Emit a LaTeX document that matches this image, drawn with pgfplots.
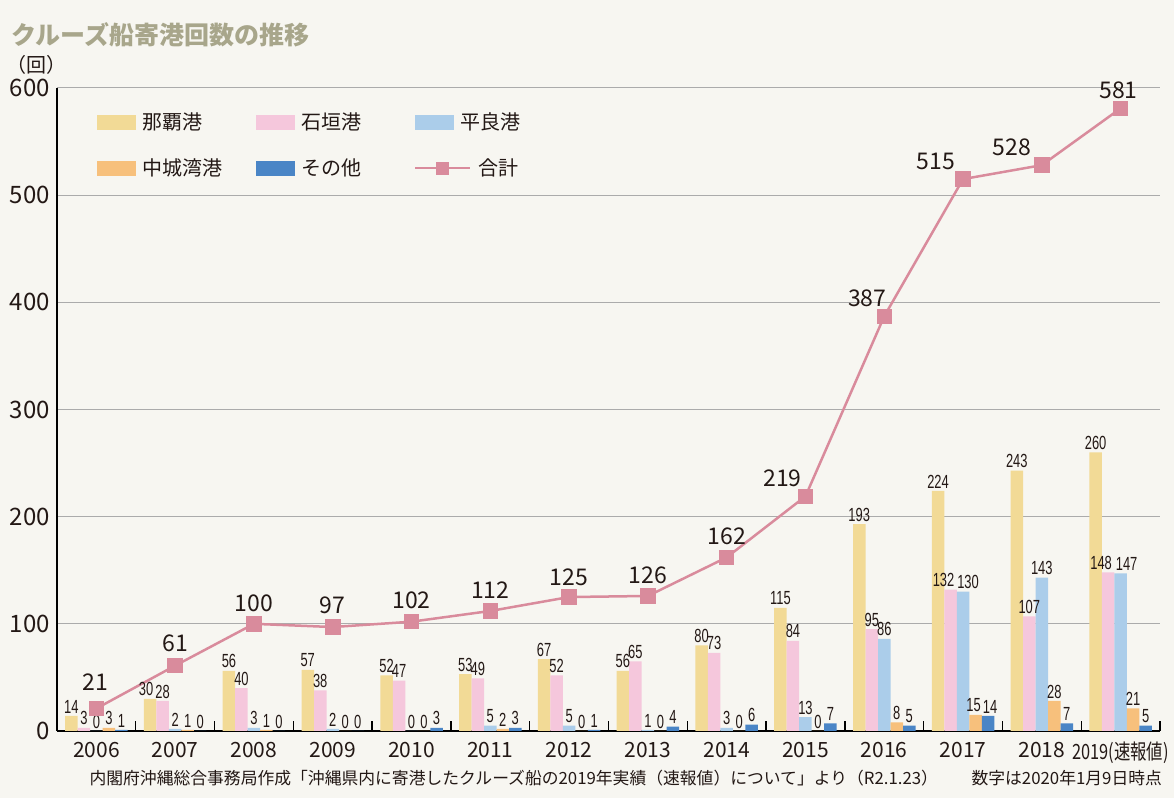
\documentclass[border=0pt]{standalone}
\usepackage{pgfplots}
\pgfplotsset{compat=1.18}
\usepackage{pgfplotstable}
\usepackage{graphicx}
\usepackage{fontspec}
\setmainfont{Noto Sans CJK JP}
\newfontfamily\numfont[FakeStretch=0.68]{Liberation Sans}
\definecolor{bg}{HTML}{F7F6F1}
\definecolor{naha}{HTML}{F2DA96}
\definecolor{ishi}{HTML}{F5C7DC}
\definecolor{hira}{HTML}{ABCDEA}
\definecolor{naka}{HTML}{F7C07C}
\definecolor{other}{HTML}{4A85C6}
\definecolor{total}{HTML}{D98B9C}
\definecolor{titlec}{HTML}{A8A68B}
\definecolor{gridc}{HTML}{ABABAB}
\definecolor{txt}{HTML}{231815}

\pgfplotstableread{
x naha ishi hira naka other total lx ly sy sp sh sn so
0 14 3 0 3 1 21 -0.5 13 0 0 0 0 0
1 30 28 2 1 0 61 0 11 -2 0 0 0 0
2 56 40 3 1 0 100 0 10.5 0 0 0 0 0
3 57 38 2 0 0 97 0 11 0 0 0 0 0
4 52 47 0 0 3 102 0 10.5 0 0 0 0 0
5 53 49 5 2 3 112 0 10.5 0 0 0 0 0
6 67 52 5 0 1 125 0 10 0 0 0 0 0
7 56 65 1 0 4 126 0 10.5 0 0 0 0 0
8 80 73 3 0 6 162 0 10.5 0 0 0 0 0
9 115 84 13 0 7 219 -11.5 9 0 0 0 0 0
10 193 95 86 8 5 387 -8.5 9 0 0 0 0 0
11 224 132 130 15 14 515 -13.5 9 0 -3.5 2.5 -1 1
12 243 107 143 28 7 528 -15 9 0 0 0 0 0
13 260 148 147 21 5 581 -1 9 0 -3.5 3 0 0
}\data

\pgfplotsset{
  barleg/.style={legend image code/.code={%
    \fill[##1,draw=none] (0pt,-3.75pt) rectangle (19.5pt,3.75pt);
    \path[draw=none,fill=none] (22.5pt,0pt);}},
  barlab/.style 2 args={ybar, bar width=6.25pt, bar shift=#1, draw=none,
    nodes near coords,
    visualization depends on={\thisrow{#2} \as \sx},
    nodes near coords style={font=\numfont\fontsize{9.5}{9.5}\selectfont, text=txt, inner sep=1.2pt, xshift={#1+\sx pt}}},
}

\begin{document}
\begin{tikzpicture}
\fill[bg] (-28.5pt,-33.5pt) rectangle (558.5pt,365.5pt);
\begin{axis}[
  at={(0,0)}, anchor=south west,
  scale only axis, width=551.5pt, height=321.5pt,
  xmin=-0.5, xmax=13.5, ymin=0, ymax=600,
  clip=false,
  axis x line*=bottom, axis y line*=left,
  x axis line style={black, line width=1pt},
  y axis line style={black, line width=0.75pt},
  ytick={0,100,...,600},
  ymajorgrids, grid style={gridc, line width=0.5pt},
  xtick={0,...,13},
  xticklabels={2006,2007,2008,2009,2010,2011,2012,2013,2014,2015,2016,2017,2018,{\scalebox{0.78}[1]{2019(速報値)}}},
  minor xtick={0.5,1.5,...,13.5},
  major tick length=0pt, minor tick length=5pt,
  minor tick style={black, line width=0.7pt},
  /pgf/number format/assume math mode=true,
  yticklabel style={font=\fontsize{12}{12}\selectfont, text=txt},
  xticklabel style={font=\fontsize{10.5}{10.5}\selectfont, text=txt, yshift=-2pt},
  legend columns=3,
  legend style={at={(0,1)}, anchor=north west, xshift=20pt, yshift=-10pt,
    draw=none, fill=none, inner sep=0pt,
    font=\fontsize{10}{10}\selectfont, text=txt,
    /tikz/column sep=0pt, /tikz/row sep=9pt,
    nodes={text width=57pt, inner xsep=0pt, align=left}},
  legend cell align=left,
]
\addplot[fill=naha, barlab={-12.5pt}{sy}, barleg] table[x=x,y=naha]{\data};
\addlegendentry{那覇港}
\addplot[fill=ishi, barlab={-6.25pt}{sp}, barleg] table[x=x,y=ishi]{\data};
\addlegendentry{石垣港}
\addplot[fill=hira, barlab={0pt}{sh}, barleg] table[x=x,y=hira]{\data};
\addlegendentry{平良港}
\addplot[fill=naka, barlab={6.25pt}{sn}, barleg] table[x=x,y=naka]{\data};
\addlegendentry{中城湾港}
\addplot[fill=other, barlab={12.5pt}{so}, barleg] table[x=x,y=other]{\data};
\addlegendentry{その他}
\addplot[total, line width=1.25pt, mark=square*, mark size=3.25pt,
  mark options={solid, fill=total, draw=none},
  legend image code/.code={%
    \begin{pgfinterruptboundingbox}
    \draw[total, line width=1.25pt, fill=none] (0pt,0pt) -- (27.5pt,0pt);
    \fill[total, draw=none] (10.5pt,-3.25pt) rectangle (17pt,3.25pt);
    \end{pgfinterruptboundingbox}
    \path[draw=none, fill=none] (0pt,-3.75pt) rectangle (22.5pt,3.75pt);},
  nodes near coords,
  visualization depends on={\thisrow{lx} \as \dx},
  visualization depends on={\thisrow{ly} \as \dy},
  nodes near coords style={font=\fontsize{11.5}{11.5}\selectfont, text=txt, anchor=center, xshift=\dx pt, yshift=\dy pt},
] table[x=x,y=total]{\data};
\addlegendentry{\hspace{9pt}合計}
\end{axis}
\node[anchor=west, font=\bfseries\fontsize{12.5}{12.5}\selectfont, text=titlec] at (-26.5pt,348pt) {クルーズ船寄港回数の推移};
\node[font=\fontsize{10}{10}\selectfont, text=txt] at (-10.5pt,333pt) {（回）};
\node[anchor=east, font=\fontsize{8.4}{8.4}\selectfont, text=txt] at (556pt,-23.5pt) {内閣府沖縄総合事務局作成「沖縄県内に寄港したクルーズ船の2019年実績（速報値）について」より（R2.1.23）\hspace{2em}数字は2020年1月9日時点};
\pgfresetboundingbox
\path (-28.5pt,-33.5pt) rectangle (558.5pt,365.5pt);
\end{tikzpicture}
\end{document}
